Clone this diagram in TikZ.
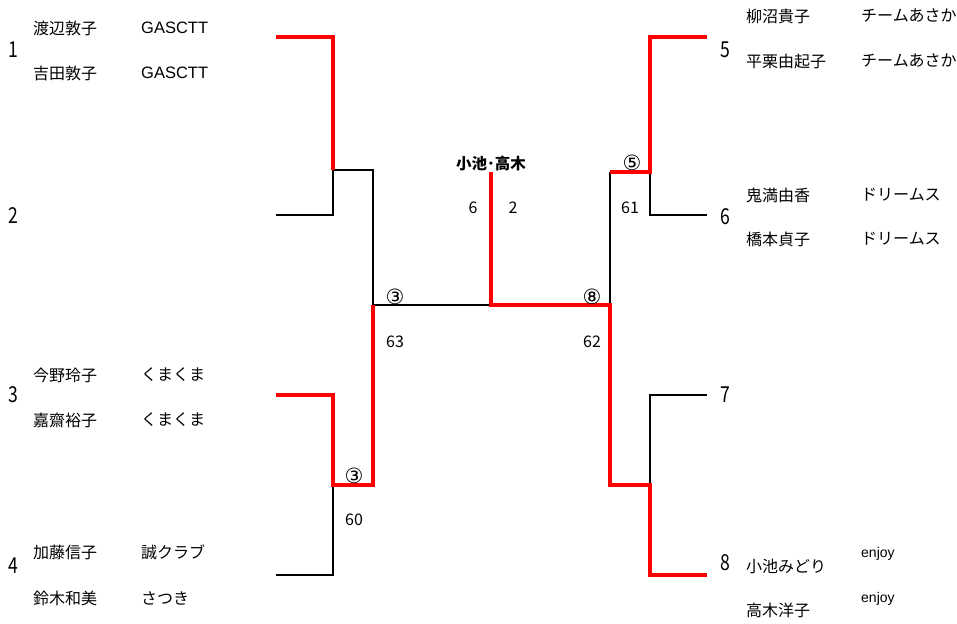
\documentclass[tikz,border=0pt]{standalone}
\usepackage{fontspec}
\setmainfont{Noto Sans CJK JP}
\newfontfamily\latinf{Liberation Sans}
\newfontfamily\circf{DejaVu Sans}
\usepackage{graphicx}
\begin{document}
\begin{tikzpicture}[x=1pt,y=-1pt,
  blk/.style={line width=1.8pt, black},
  win/.style={line width=3.6pt, red},
  pname/.style={anchor=west, inner sep=0pt, font=\fontsize{16}{16}\selectfont},
  team/.style={anchor=west, inner sep=0pt, font=\latinf\fontsize{16.5}{17}\selectfont},
  small/.style={anchor=west, inner sep=0pt, font=\latinf\fontsize{14}{15}\selectfont},
  seed/.style={inner sep=0pt, font=\fontsize{22}{22}\selectfont},
  score/.style={inner sep=0pt, font=\fontsize{16}{16}\selectfont},
  circ/.style={inner sep=0pt, font=\circf\fontsize{21}{21}\selectfont}]
\useasboundingbox (0,0) rectangle (957,623);
\fill[white] (0,0) rectangle (957,623);
% coordinates
\coordinate (L1) at (276,37);  \coordinate (L1a) at (333,37);
\coordinate (L2) at (276,215); \coordinate (L2a) at (333,215);
\coordinate (Lq1) at (333,170); \coordinate (Lq1b) at (373,170);
\coordinate (Ls) at (373,305);
\coordinate (L3) at (276,395); \coordinate (L3a) at (333,395);
\coordinate (L4) at (276,575); \coordinate (L4a) at (333,575);
\coordinate (Lq2) at (333,485); \coordinate (Lq2b) at (373,485);
\coordinate (C) at (491,305);  \coordinate (Ctop) at (491,172);
\coordinate (R5) at (707,37);  \coordinate (R5a) at (650,37);
\coordinate (R6) at (707,215); \coordinate (R6a) at (650,215);
\coordinate (Rq1) at (650,172); \coordinate (Rq1b) at (610,172);
\coordinate (Rs) at (610,305);
\coordinate (R7) at (707,395); \coordinate (R7a) at (650,395);
\coordinate (R8) at (707,575); \coordinate (R8a) at (650,575);
\coordinate (Rq2) at (650,485); \coordinate (Rq2b) at (610,485);
% black lines
\draw[blk] (Lq1) -- (L2a) -- (L2);
\draw[blk] (Lq1) -- (Lq1b) -- (Ls);
\draw[blk] (Lq2) -- (L4a) -- (L4);
\draw[blk] (Ls) -- (C);
\draw[blk] (Rq2) -- (R7a) -- (R7);
\draw[blk] (Rs) -- (Rq1b);
\draw[blk] (Rq1) -- (R6a) -- (R6);
% red (winner) lines
\draw[win] (L1) -- (L1a) -- (Lq1);
\draw[win] (L3) -- (L3a) -- (Lq2) -- (Lq2b) -- (Ls);
\draw[win] (Ctop) -- (C) -- (Rs) -- (Rq2b) -- (Rq2) -- (R8a) -- (R8);
\draw[win] (Rq1b) -- (Rq1) -- (R5a) -- (R5);
% seeds
\node[seed] (s1) at (13,50) {\scalebox{0.8}[1]{1}};
\node[seed] (s2) at (13,216) {\scalebox{0.8}[1]{2}};
\node[seed] (s3) at (13,395) {\scalebox{0.8}[1]{3}};
\node[seed] (s4) at (13,566) {\scalebox{0.8}[1]{4}};
\node[seed] (s5) at (725,50) {\scalebox{0.8}[1]{5}};
\node[seed] (s6) at (725,217) {\scalebox{0.8}[1]{6}};
\node[seed] (s7) at (725,395) {\scalebox{0.8}[1]{7}};
\node[seed] (s8) at (725,563) {\scalebox{0.8}[1]{8}};
% left names
\node[pname] (n1a) at (33,28) {渡辺敦子};
\node[team] (t1a) at (141,28) {GASCTT};
\node[pname] (n1b) at (33,73) {吉田敦子};
\node[team] (t1b) at (141,73) {GASCTT};
\node[pname] (n3a) at (33,375) {今野玲子};
\node[pname] (t3a) at (141,375) {くまくま};
\node[pname] (n3b) at (33,420) {嘉齋裕子};
\node[pname] (t3b) at (141,420) {くまくま};
\node[pname] (n4a) at (33,552) {加藤信子};
\node[pname] (t4a) at (141,552) {誠クラブ};
\node[pname] (n4b) at (33,598) {鈴木和美};
\node[pname] (t4b) at (141,598) {さつき};
% right names
\node[pname] (n5a) at (746,16) {柳沼貴子};
\node[pname] (t5a) at (861,16) {チームあさか};
\node[pname] (n5b) at (746,61) {平栗由起子};
\node[pname] (t5b) at (861,61) {チームあさか};
\node[pname] (n6a) at (746,195) {鬼満由香};
\node[pname] (t6a) at (861,195) {ドリームス};
\node[pname] (n6b) at (746,239) {橋本貞子};
\node[pname] (t6b) at (861,239) {ドリームス};
\node[pname] (n8a) at (746,566) {小池みどり};
\node[small] (t8a) at (861,554) {enjoy};
\node[pname] (n8b) at (746,610) {高木洋子};
\node[small] (t8b) at (861,599) {enjoy};
% champion and scores
\node[inner sep=0pt, font=\bfseries\fontsize{15.5}{16}\selectfont] (champ) at (491,164) {小池･高木};
\node[score] (f6) at (473,208) {6};
\node[score] (f2) at (513,208) {2};
\node[circ] (c3) at (395,297) {③};
\node[circ] (c8) at (592,297) {⑧};
\node[score] (sc63) at (395,342) {63};
\node[score] (sc62) at (592,342) {62};
\node[circ] (c5) at (632,163) {⑤};
\node[score] (sc61) at (630,208) {61};
\node[circ] (c3b) at (354,476) {③};
\node[score] (sc60) at (354,520) {60};
\end{tikzpicture}
\end{document}
